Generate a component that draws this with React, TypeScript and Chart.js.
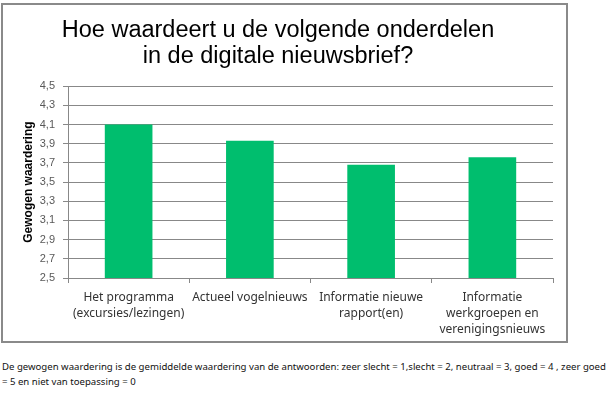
import React, { useEffect, useRef } from "react";
import { Chart, registerables } from "chart.js";

Chart.register(...registerables);

const titleLines = ["Hoe waardeert u de volgende onderdelen", "in de digitale nieuwsbrief?"];
const categories: string[][] = [
  ["Het programma", "(excursies/lezingen)"],
  ["Actueel vogelnieuws"],
  ["Informatie nieuwe", "rapport(en)"],
  ["Informatie", "werkgroepen en", "verenigingsnieuws"],
];
const values = [4.1, 3.93, 3.68, 3.76];
const yMin = 2.5;
const yMax = 4.5;
const yStep = 0.2;
const yTitle = "Gewogen waardering";
const footnoteLines = [
  "De gewogen waardering is de gemiddelde waardering van de antwoorden: zeer slecht = 1,slecht = 2, neutraal = 3, goed = 4 , zeer goed",
  "= 5 en niet van toepassing = 0",
];

export default function App() {
  const ref = useRef<HTMLCanvasElement | null>(null);

  useEffect(() => {
    if (!ref.current) return;
    const grid = "#888888";
    const chart = new Chart(ref.current, {
      type: "bar",
      data: {
        labels: categories,
        datasets: [
          {
            data: values,
            backgroundColor: "#00BE6E",
            borderWidth: 0,
            categoryPercentage: 1,
            barPercentage: 0.393,
          },
        ],
      },
      options: {
        animation: false,
        responsive: false,
        layout: { padding: { left: 0, right: 13, top: 0, bottom: 0 } },
        plugins: {
          legend: { display: false },
          tooltip: { enabled: false },
          title: {
            display: true,
            text: titleLines,
            color: "#000000",
            font: { family: "'Liberation Sans', Arial, sans-serif", size: 23.5, weight: "normal", lineHeight: 1.11 },
            padding: { top: 12, bottom: 17 },
          },
        },
        scales: {
          x: {
            afterFit: (s: any) => {
              s.height = 63;
            },
            grid: {
              display: true,
              drawOnChartArea: false,
              drawTicks: true,
              tickLength: 5,
              color: grid,
              offset: true,
            },
            border: { display: true, color: grid },
            ticks: {
              color: "#333333",
              padding: 6,
              maxRotation: 0,
              autoSkip: false,
              font: { family: "'Noto Sans', sans-serif", size: 12, lineHeight: 1.35 },
            },
          },
          y: {
            min: yMin,
            max: yMax,
            afterFit: (s: any) => {
              s.width = 65;
            },
            grid: { color: grid, tickLength: 5, drawTicks: true },
            border: { display: true, color: grid },
            ticks: {
              stepSize: yStep,
              padding: 8,
              color: "#595959",
              font: { family: "'Liberation Sans', Arial, sans-serif", size: 11 },
              callback: (v: any) => Number(v).toFixed(1).replace(".", ","),
            },
            title: {
              display: true,
              text: yTitle,
              color: "#000000",
              padding: { top: 18, bottom: 0 },
              font: { family: "'Liberation Sans', Arial, sans-serif", size: 12, weight: "bold" },
            },
          },
        },
      },
    });
    return () => chart.destroy();
  }, []);

  return (
    <div style={{ position: "absolute", left: 0, top: 0, width: 615, height: 394, background: "#fff" }}>
      <div
        style={{
          position: "absolute",
          left: 1,
          top: 3,
          width: 567,
          height: 340,
          boxSizing: "border-box",
          border: "2px solid #8a8a8a",
        }}
      >
        <canvas ref={ref} width={563} height={336} style={{ display: "block" }} />
      </div>
      <div
        style={{
          position: "absolute",
          left: 2,
          top: 359,
          fontFamily: "'Noto Sans', sans-serif",
          fontSize: 9.6,
          lineHeight: "15px",
          color: "#111",
          whiteSpace: "nowrap",
        }}
      >
        {footnoteLines.map((l, i) => (
          <div key={i}>{l}</div>
        ))}
      </div>
    </div>
  );
}
